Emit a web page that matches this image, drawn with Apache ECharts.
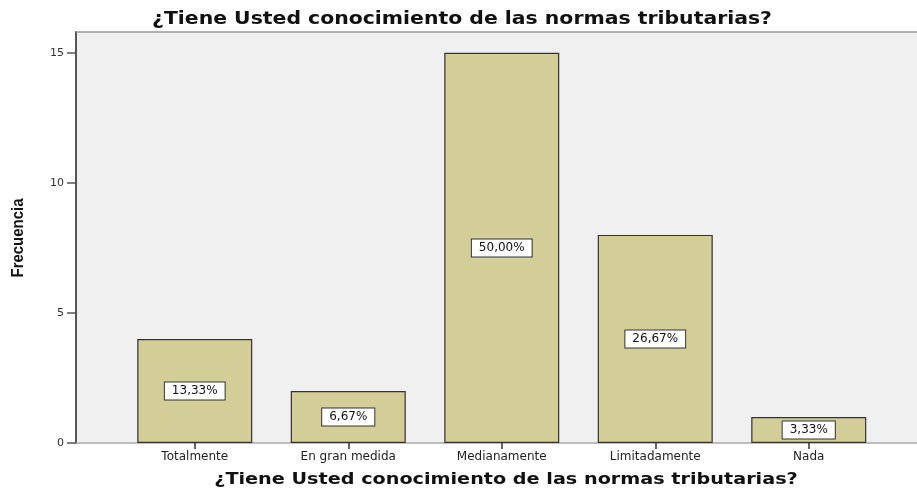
<!DOCTYPE html>
<html><head><meta charset="utf-8">
<script src="https://cdn.jsdelivr.net/npm/echarts@6/dist/echarts.min.js"></script>
<style>html,body{margin:0;padding:0;background:#fff}#c{width:917px;height:488px}</style>
</head><body><div id="c"></div>
<script>
var categories = ['Totalmente', 'En gran medida', 'Medianamente', 'Limitadamente', 'Nada'];
var frecuencia = [4, 2, 15, 8, 1];
var porcentajes = ['13,33%', '6,67%', '50,00%', '26,67%', '3,33%'];
var yTicks = [0, 5, 10, 15];
var titleText = '¿Tiene Usted conocimiento de las normas tributarias?';
var yName = 'Frecuencia';

var chart = echarts.init(document.getElementById('c'), null, {renderer: 'canvas'});
var yMax = 15.8;
var option = {
  animation: false,
  grid: [
    {left: 76, right: 0, top: 32, bottom: 45, show: true, backgroundColor: '#f0f0f0', borderWidth: 0, outerBoundsMode: 'none', containLabel: false},
    {left: 118, width: 767.5, top: 32, bottom: 45, outerBoundsMode: 'none', containLabel: false}
  ],
  xAxis: [
    {gridIndex: 0, type: 'value', min: 0, max: 1, show: true,
     axisLine: {show: true, onZero: false, lineStyle: {color: '#a8a8a8', width: 1.5}},
     axisTick: {show: false}, axisLabel: {show: false}, splitLine: {show: false}},
    {gridIndex: 1, type: 'category', data: categories,
     axisLine: {show: false},
     axisTick: {show: true, alignWithLabel: true, length: 6, lineStyle: {color: '#333', width: 1.5}},
     axisLabel: {fontFamily: 'DejaVu Sans', fontSize: 12, color: '#222', margin: 8}}
  ],
  yAxis: [
    {gridIndex: 0, type: 'value', min: 0, max: yMax,
     axisLine: {show: true, lineStyle: {color: '#555', width: 2}},
     axisTick: {show: true, length: 9, customValues: yTicks, lineStyle: {color: '#555', width: 1.5}},
     axisLabel: {fontFamily: 'DejaVu Sans', fontSize: 11, color: '#333', margin: 12, customValues: yTicks},
     splitLine: {show: false}},
    {gridIndex: 1, type: 'value', min: 0, max: yMax, show: false}
  ],
  series: [{
    type: 'bar', xAxisIndex: 1, yAxisIndex: 1, data: frecuencia, barWidth: 115,
    itemStyle: {color: '#d3ce97', borderColor: '#333', borderWidth: 1.2},
    label: {
      show: true, position: 'inside',
      formatter: function (p) { return porcentajes[p.dataIndex]; },
      fontFamily: 'DejaVu Sans', fontSize: 12, color: '#111',
      backgroundColor: '#fff', borderColor: '#333', borderWidth: 1, padding: [3, 7, 2, 7]
    }
  }],
  graphic: [
    {type: 'line', shape: {x1: 76, y1: 32, x2: 917, y2: 32},
     style: {stroke: '#999', lineWidth: 1.5}, z: 100},
    {type: 'text', x: 462, y: 20, scaleX: 1.2, z: 100,
     style: {text: titleText, font: 'bold 17px "DejaVu Sans"', fill: '#111', textAlign: 'center', textVerticalAlign: 'middle'}},
    {type: 'text', x: 506, y: 480, scaleX: 1.2, z: 100,
     style: {text: titleText, font: 'bold 16px "DejaVu Sans"', fill: '#111', textAlign: 'center', textVerticalAlign: 'middle'}},
    {type: 'text', x: 18, y: 238, rotation: Math.PI / 2, scaleX: 0.88, z: 100,
     style: {text: yName, font: 'bold 17px "Liberation Sans"', fill: '#111', textAlign: 'center', textVerticalAlign: 'middle'}}
  ]
};
chart.setOption(option);
</script></body></html>
